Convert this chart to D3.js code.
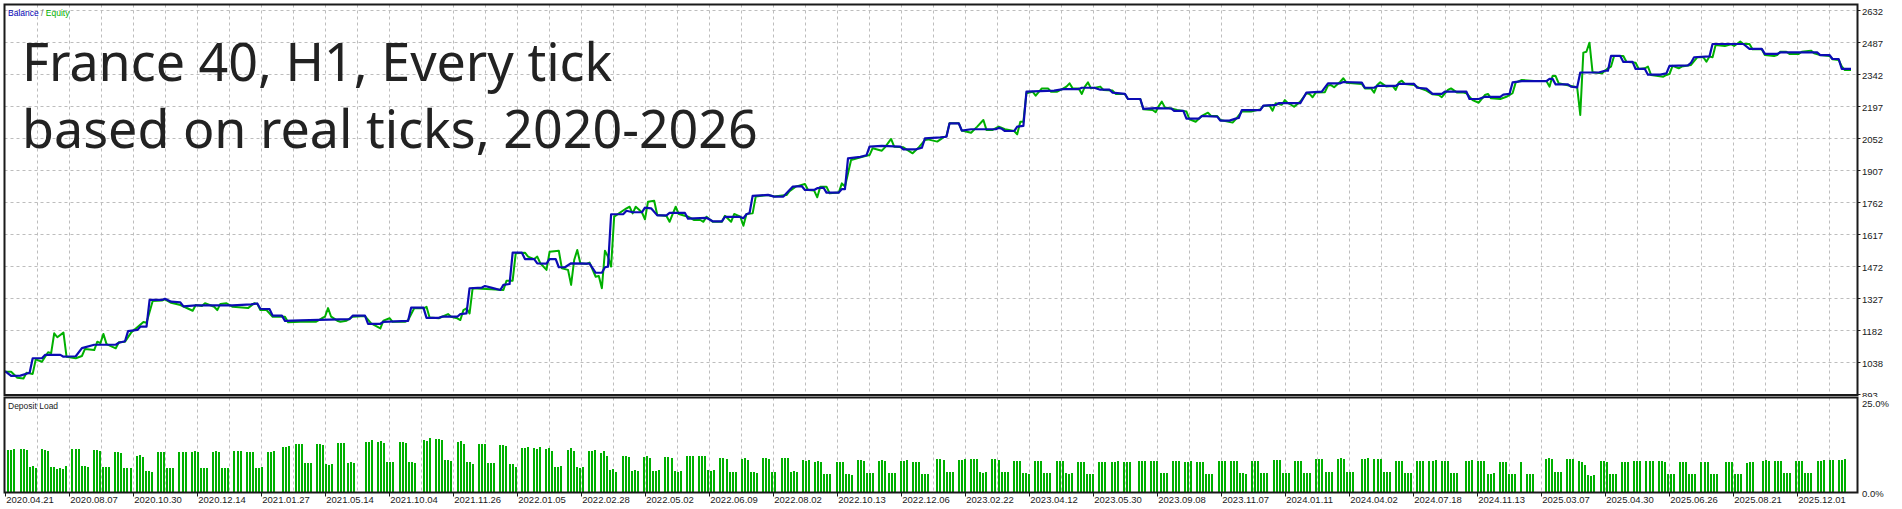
<!DOCTYPE html>
<html lang="en">
<head>
<meta charset="UTF-8">
<title>France 40 balance / equity</title>
<script src="https://d3js.org/d3.v7.min.js"></script>
<style>
  body { margin: 0; background: #fff; }
  svg text { font-family: "Liberation Sans", Arial, sans-serif; fill: #1a1a1a; }
  .grid line { stroke: #bdbdbd; stroke-width: 1; stroke-dasharray: 3,3; }
  .frame { fill: none; stroke: #1a1a1a; stroke-width: 2; }
  .tick { stroke: #1a1a1a; stroke-width: 1; }
</style>
</head>
<body>
<svg id="chart" width="1902" height="509"></svg>
<script>
// x axis labels (one every 64 px of the tester chart)
const dateLabels = ["2020.04.21", "2020.08.07", "2020.10.30", "2020.12.14", "2021.01.27", "2021.05.14",
  "2021.10.04", "2021.11.26", "2022.01.05", "2022.02.28", "2022.05.02", "2022.06.09", "2022.08.02",
  "2022.10.13", "2022.12.06", "2023.02.22", "2023.04.12", "2023.05.30", "2023.09.08", "2023.11.07",
  "2024.01.11", "2024.04.02", "2024.07.18", "2024.11.13", "2025.03.07", "2025.04.30", "2025.06.26",
  "2025.08.21", "2025.12.01"];

const priceTicks = [893, 1038, 1182, 1327, 1472, 1617, 1762, 1907, 2052, 2197, 2342, 2487, 2632];
const loadTicks = [0, 25];

const titleLines = ["France 40, H1, Every tick", "based on real ticks, 2020-2026"];

// [deal index, balance]
const balance = [[0,997],[2,975],[5,976],[8,989],[9,1055],[12,1055],[13,1070],[18,1070],[19,1062],[23,1064],
  [25,1101],[29,1116],[36,1116],[37,1125],[39,1132],[40,1178],[43,1183],[44,1198],[46,1198],[47,1319],
  [51,1319],[52,1324],[54,1311],[57,1308],[58,1290],[62,1294],[74,1294],[80,1299],[82,1303],[83,1279],
  [86,1277],[87,1248],[90,1248],[91,1224],[96,1226],[102,1229],[112,1232],[113,1248],[117,1248],[118,1211],
  [122,1211],[123,1220],[131,1224],[132,1284],[136,1284],[137,1238],[141,1238],[142,1243],[147,1243],[148,1255],
  [150,1258],[151,1372],[155,1375],[156,1382],[158,1375],[161,1364],[162,1387],[164,1391],[165,1533],[168,1533],
  [169,1504],[172,1504],[173,1485],[176,1483],[177,1504],[179,1504],[180,1467],[182,1467],[184,1485],[190,1483],
  [192,1442],[194,1442],[195,1467],[196,1470],[197,1707],[201,1708],[202,1723],[204,1716],[207,1716],[208,1737],
  [210,1734],[212,1702],[215,1702],[216,1713],[221,1713],[222,1687],[228,1691],[230,1675],[233,1675],[234,1695],
  [239,1695],[240,1689],[241,1707],[242,1713],[243,1790],[248,1795],[250,1787],[253,1787],[254,1802],[256,1832],
  [259,1834],[260,1817],[263,1817],[264,1825],[266,1828],[267,1805],[271,1805],[272,1821],[273,1821],[274,1960],
  [278,1967],[280,1974],[281,2013],[285,2017],[291,2013],[292,2001],[296,2001],[298,2008],[299,2051],[304,2055],
  [306,2058],[307,2119],[310,2119],[311,2086],[314,2092],[322,2092],[323,2098],[324,2094],[325,2084],[328,2084],
  [329,2104],[331,2107],[332,2262],[341,2267],[344,2274],[349,2274],[350,2280],[354,2280],[356,2271],[359,2271],
  [360,2258],[364,2252],[365,2229],[369,2229],[370,2184],[374,2188],[379,2186],[380,2175],[383,2175],[384,2140],
  [388,2140],[389,2152],[394,2149],[395,2131],[398,2131],[400,2140],[401,2143],[402,2179],[408,2179],[409,2199],
  [413,2202],[414,2210],[421,2210],[423,2258],[428,2262],[430,2300],[434,2300],[435,2306],[441,2303],[442,2280],
  [445,2280],[446,2288],[452,2288],[453,2297],[458,2297],[459,2280],[462,2276],[464,2252],[467,2252],[468,2262],
  [475,2262],[476,2229],[479,2229],[481,2239],[486,2239],[487,2249],[489,2252],[490,2304],[493,2310],[501,2310],
  [502,2320],[503,2320],[504,2295],[508,2295],[509,2285],[511,2282],[512,2349],[518,2349],[520,2357],[521,2357],
  [522,2424],[525,2424],[526,2397],[529,2397],[530,2365],[533,2365],[534,2339],[538,2339],[540,2345],[541,2379],
  [547,2381],[548,2393],[549,2418],[554,2422],[555,2478],[565,2478],[567,2456],[571,2456],[572,2433],[576,2433],
  [577,2440],[589,2440],[590,2428],[593,2428],[594,2410],[596,2410],[597,2365],[600,2365]];

// [deal index, equity]
const equity = [[0,994],[2,994],[4,967],[6,963],[7,989],[9,984],[10,1050],[12,1039],[14,1082],[15,1078],
  [16,1168],[17,1150],[19,1171],[20,1062],[23,1055],[25,1065],[26,1097],[29,1092],[30,1130],[31,1123],
  [32,1165],[33,1119],[36,1100],[37,1127],[39,1130],[41,1171],[43,1195],[45,1219],[46,1216],[48,1314],
  [51,1316],[52,1322],[54,1306],[57,1296],[61,1270],[62,1296],[64,1292],[65,1304],[68,1288],[69,1273],
  [70,1301],[72,1304],[74,1288],[79,1282],[81,1304],[82,1301],[83,1273],[85,1273],[87,1243],[91,1243],
  [92,1218],[96,1220],[101,1220],[103,1236],[104,1243],[105,1282],[106,1243],[108,1225],[109,1220],[111,1225],
  [113,1243],[117,1246],[119,1213],[122,1190],[123,1225],[125,1236],[126,1220],[130,1220],[131,1227],[133,1281],
  [136,1281],[137,1288],[138,1239],[141,1236],[144,1255],[145,1243],[147,1236],[148,1228],[149,1273],[150,1281],
  [151,1258],[152,1372],[158,1367],[162,1364],[163,1406],[165,1406],[166,1530],[169,1533],[170,1515],[172,1504],
  [173,1515],[174,1485],[176,1455],[177,1537],[180,1542],[181,1462],[183,1455],[184,1387],[185,1500],[186,1545],
  [187,1485],[189,1482],[190,1488],[192,1424],[193,1427],[194,1372],[195,1542],[196,1515],[197,1470],[198,1696],
  [202,1734],[203,1741],[204,1711],[205,1741],[207,1716],[208,1684],[209,1764],[211,1768],[212,1704],[215,1699],
  [216,1673],[217,1708],[218,1741],[219,1708],[222,1696],[224,1681],[226,1681],[227,1673],[228,1696],[230,1673],
  [233,1673],[234,1700],[236,1673],[237,1708],[239,1696],[240,1655],[241,1708],[243,1711],[244,1787],[248,1794],
  [250,1787],[254,1794],[255,1812],[257,1832],[260,1844],[261,1817],[263,1814],[264,1784],[265,1832],[267,1832],
  [268,1802],[271,1805],[272,1847],[273,1832],[275,1953],[279,1968],[281,1975],[282,2006],[285,1995],[286,2010],
  [288,2048],[289,2013],[292,2010],[293,2001],[295,1983],[297,2010],[299,2043],[300,2046],[303,2036],[305,2055],
  [306,2061],[307,2119],[310,2119],[311,2086],[314,2076],[316,2104],[318,2134],[319,2089],[321,2089],[323,2104],
  [325,2092],[328,2084],[329,2069],[330,2126],[331,2126],[332,2255],[334,2262],[335,2244],[337,2277],[339,2277],
  [340,2262],[342,2262],[344,2277],[345,2285],[346,2300],[347,2277],[349,2277],[350,2252],[351,2285],[352,2304],
  [353,2277],[356,2285],[357,2270],[360,2267],[361,2252],[364,2252],[365,2229],[369,2229],[370,2182],[373,2179],
  [374,2169],[375,2197],[376,2217],[377,2191],[379,2186],[381,2179],[384,2172],[385,2137],[387,2126],[389,2152],
  [391,2167],[392,2152],[394,2152],[395,2134],[399,2122],[400,2137],[402,2172],[405,2172],[408,2182],[409,2197],
  [411,2200],[412,2176],[413,2210],[415,2203],[416,2224],[417,2210],[418,2203],[419,2194],[421,2217],[423,2255],
  [424,2252],[425,2237],[426,2258],[429,2260],[430,2290],[431,2292],[432,2282],[434,2307],[435,2323],[436,2303],
  [441,2297],[442,2277],[444,2277],[445,2258],[446,2292],[447,2305],[449,2285],[451,2288],[452,2270],[453,2303],
  [454,2312],[455,2297],[458,2292],[460,2277],[462,2267],[464,2250],[466,2247],[467,2237],[469,2270],[470,2277],
  [472,2258],[474,2258],[475,2255],[477,2224],[479,2212],[481,2247],[482,2252],[483,2232],[486,2229],[488,2239],
  [490,2255],[491,2303],[493,2315],[497,2310],[501,2310],[502,2285],[503,2333],[504,2333],[505,2300],[509,2288],
  [511,2282],[512,2157],[513,2439],[514,2443],[515,2484],[516,2350],[519,2345],[521,2368],[522,2376],[523,2424],
  [526,2424],[527,2398],[530,2393],[531,2365],[533,2368],[534,2376],[535,2338],[539,2330],[540,2338],[541,2342],
  [542,2379],[544,2368],[545,2376],[548,2383],[550,2418],[552,2418],[553,2398],[554,2421],[555,2418],[556,2474],
  [559,2469],[561,2477],[562,2469],[564,2489],[565,2478],[567,2478],[568,2454],[571,2454],[572,2428],[575,2424],
  [576,2428],[577,2443],[579,2443],[580,2433],[583,2433],[584,2443],[587,2448],[588,2436],[590,2428],[593,2424],
  [594,2409],[596,2406],[597,2376],[598,2360],[600,2360]];

// deposit load, % : [first slot, load of each consecutive slot]
const loadGroups = [[0,11.1,11.1,11.3],[4,11.3,11.3,11.1],[7,6.5,6.8,6.2],[11,11.2,11.1,10.8],[14,6.6,6.6,6.1],
  [17,6.3,6.1,6.8],[21,11.3,11.3,11.3],[24,6.8,6.8,6.6],[28,11.1,11.1,10.8],[31,6.5,6.5,6.5],[35,10.6,10.6,10.2],
  [38,6.2,6.2,6.2],[42,9.5,9.7,9.2],[45,5.5,5.5,5.3],[49,10.5,10.5,10.4],[52,6.2,6.2,6.2],[56,10.5,10.5,10.5],
  [60,10.5,10.7,10.5],[63,6.2,6.2,6.2],[67,10.5,10.7,10.5],[70,6.2,6.2,6.2],[74,10.8,10.8,10.8],[78,10.5,10.5,10.4],
  [81,6.3,6.3,6.5],[85,10.5,10.5,10.8],[90,11.8,11.9,12.1],[94,12.6,12.6,12.6],[97,7.6,7.6,7.6],[101,12.6,12.6,12.3],
  [104,7.4,7.1,7.5],[108,12.9,12.9,12.9],[111,7.7,7.9,7.7],[117,13.2,13.2,13.6],[121,13.2,13.4,12.9],[124,7.9,7.9,7.9],
  [128,13.2,13.2,12.9],[131,7.9,7.9,7.6],[136,13.6,13.4,14.1],[140,13.9,13.9,13.6],[143,8.4,8.4,8.2],
  [147,13.2,13.3,12.6],[150,7.9,7.9,7.4],[154,12.6,12.6,12.6],[157,7.6,7.6,7.6],[161,12.4,12.4,12.1],
  [164,7.4,7.4,6.6],[168,11.6,11.6,11.8],[172,11.6,11.3,11.8],[176,11.3,11.6,10.8],[179,6.6,6.6,6.8],
  [183,11.1,11.6,10.8],[186,6.6,6.3,6.6],[190,10.8,10.8,11.1],[194,10.3,10.8,9.5],[197,5.8,6.1,5.3],
  [201,9.5,9.5,9.2],[204,5.5,5.8,5.5],[208,9.2,9.5,8.9],[211,5.5,5.5,5.8],[215,9.2,9.2,8.9],[218,5.5,5.3,5.5],
  [222,9.5,9.5,9.5],[226,9.5,9.5,9.5],[229,5.8,5.5,5.8],[233,8.9,8.9,8.7],[236,5.3,5.3,5.3],[240,8.7,8.9,8.4],
  [243,5.3,5.3,5.0],[247,8.9,8.9,8.7],[250,5.3,5.3],[253,8.9,8.9,8.9],[256,5.3,5.5,5.3],[260,8.4,8.2,8.4],
  [264,7.9,8.2,7.9],[267,4.7,4.7,4.7],[271,7.9,7.9,7.9],[274,4.7,4.7,4.5],[278,8.4,8.4,8.2],[281,5.0,5.0,5.0],
  [285,8.2,8.4,8.2],[288,5.0,5.0,5.0],[292,8.2,8.2,8.4],[296,7.9,7.9,7.9],[299,4.7,4.7,4.7],[304,8.7,8.7,8.4],
  [307,5.3,5.3,5.3],[311,8.4,8.4,8.7],[315,8.7,8.7,8.7],[318,5.3,5.0,5.3],[322,8.7,8.7,8.4],[325,5.3,5.3,5.3],
  [329,8.2,8.2,8.2],[332,5.0,5.0,4.7],[336,8.2,8.2,8.2],[339,5.0,5.0,5.0],[343,8.2,8.2,8.2],[346,5.0,4.7,5.0],
  [350,7.9,7.9,7.9],[353,4.7,4.7,4.7],[357,7.9,7.9,7.9],[361,7.9,7.9,8.2],[365,7.9,7.9,7.9],[370,8.2,8.2,8.2],
  [374,8.2,8.2,8.2],[377,5.0,5.0,5.0],[381,8.2,8.2,8.2],[385,7.9,7.9,8.2],[389,7.9,7.9,7.9],[392,4.7,4.7,4.7],
  [396,8.2,8.2,8.2],[400,8.2,8.2,8.2],[403,5.0,5.0,4.7],[407,8.2,8.2,8.2],[410,5.0,5.0,5.0],[414,8.4,8.4,8.4],
  [417,5.0,5.0,5.0],[421,8.2,8.2,8.2],[424,5.0,5.0,5.0],[428,8.7,8.7,8.7],[431,5.3,5.3,5.3],[435,8.7,8.9,8.7],
  [438,5.3,5.3,5.3],[443,8.7,8.7,8.9],[447,8.7,8.7,8.7],[450,5.3,5.3,5.3],[454,8.2,8.2,8.2],[457,5.0,5.0,5.0],
  [461,8.2,8.2,8.2],[465,8.2,8.2,8.4],[469,8.2,8.2,8.2],[472,5.0,5.0,5.0],[477,8.2,8.2,8.4],[481,8.2,8.2,8.2],
  [484,4.7,4.7,5.0],[488,7.9,7.9,7.9],[491,4.7,4.7,4.7],[495,7.9],[497,4.7,4.7,4.7],[503,8.7,8.9,8.7],
  [506,5.3,5.3,5.3],[510,8.7,8.7,8.7],[514,8.2,7.9,7.1],[517,4.5,4.2,4.5],[521,8.2,8.2,7.9],[524,4.7,4.7,4.7],
  [528,7.9,7.9,7.9],[532,8.2,8.2,8.2],[536,8.2,8.2,8.2],[540,8.2,8.2,7.9],[543,4.7,4.7,4.7],[547,7.9,7.9,7.9],
  [550,4.7,4.7,4.7],[554,7.9,7.9,7.9],[557,4.7,4.7,4.7],[562,7.9,7.9,7.9],[565,4.7,4.7,4.7],[569,7.6,7.9,7.9],
  [574,8.2,8.4,8.2],[578,8.2,8.2,8.2],[581,5.0,5.0,5.0],[585,8.2,8.2,8.2],[588,5.0,5.0,5.0],[592,8.2,8.2,8.4],
  [596,8.4,8.4],[599,8.4,8.4,8.7]];

const W = 1902, H = 509;
const left = 4.5, right = 1857.5;
const mainTop = 4.5, mainBottom = 395;
const loadTop = 397.5, loadBottom = 492.5;

const svg = d3.select("#chart");
svg.append("rect").attr("width", W).attr("height", H).attr("fill", "#fff");

const x = d3.scaleLinear().domain([0, 600]).range([5, 1851]);
const xLoad = d3.scaleLinear().domain([0, 599]).range([7.3, 1838]);
const y = d3.scaleLinear().domain([893, 2632]).range([394, 10]);
const yLoad = d3.scaleLinear().domain([0, 25]).range([492, 397]);
const labelX = d3.scaleLinear().domain([0, dateLabels.length - 1])
  .range([5.3, 5.3 + 64 * (dateLabels.length - 1)]);

// vertical grid every 32 px, in both panels
const vGrid = d3.range(37.3, right, 32);
const grid = svg.append("g").attr("class", "grid");
grid.selectAll("line.v").data(vGrid).enter().append("line")
  .attr("x1", d => Math.round(d) + 0.5).attr("x2", d => Math.round(d) + 0.5)
  .attr("y1", mainTop).attr("y2", mainBottom);
grid.selectAll("line.v2").data(vGrid).enter().append("line")
  .attr("x1", d => Math.round(d) + 0.5).attr("x2", d => Math.round(d) + 0.5)
  .attr("y1", loadTop).attr("y2", loadBottom);
grid.selectAll("line.h").data(priceTicks.slice(1)).enter().append("line")
  .attr("x1", left).attr("x2", right)
  .attr("y1", d => Math.round(y(d)) + 0.5).attr("y2", d => Math.round(y(d)) + 0.5);

// title
svg.append("g").selectAll("text").data(titleLines).enter().append("text")
  .attr("x", 22).attr("y", (d, i) => 81 + i * 67)
  .style("font-family", "'Noto Sans', 'Open Sans', sans-serif")
  .style("font-size", "52px").style("fill", "#222")
  .text(d => d);

// legend
const leg = svg.append("text").attr("x", 8).attr("y", 16).style("font-size", "8.5px");
leg.append("tspan").style("fill", "#0000b4").text("Balance");
leg.append("tspan").style("fill", "#707070").text(" / ");
leg.append("tspan").style("fill", "#00b000").text("Equity");

svg.append("text").attr("x", 8).attr("y", 409).style("font-size", "8.5px").text("Deposit Load");

// clip for the main panel lines
svg.append("clipPath").attr("id", "mainClip").append("rect")
  .attr("x", left).attr("y", mainTop).attr("width", right - left).attr("height", mainBottom - mainTop);

const line = d3.line().x(d => x(d[0])).y(d => y(d[1]));
const lines = svg.append("g").attr("clip-path", "url(#mainClip)");
lines.append("path").datum(equity).attr("d", line)
  .attr("fill", "none").attr("stroke", "#00b000").attr("stroke-width", 2).attr("stroke-linejoin", "round");
lines.append("path").datum(balance).attr("d", line)
  .attr("fill", "none").attr("stroke", "#0c0cb4").attr("stroke-width", 2.2).attr("stroke-linejoin", "round");

// deposit load bars
const bars = [];
loadGroups.forEach(g => g.slice(1).forEach((v, k) => bars.push({ slot: g[0] + k, v: v })));
svg.append("g").selectAll("rect").data(bars).enter().append("rect")
  .attr("x", d => Math.round(xLoad(d.slot)))
  .attr("width", 2)
  .attr("y", d => Math.round(yLoad(d.v)))
  .attr("height", d => yLoad(0) - Math.round(yLoad(d.v)))
  .attr("fill", "#00b000");

// frames
svg.append("rect").attr("class", "frame")
  .attr("x", left).attr("y", mainTop).attr("width", right - left).attr("height", mainBottom - mainTop);
svg.append("rect").attr("class", "frame")
  .attr("x", left).attr("y", loadTop).attr("width", right - left).attr("height", loadBottom - loadTop);

// right price axis
svg.append("clipPath").attr("id", "axisClip").append("rect")
  .attr("x", right).attr("y", 0).attr("width", W - right).attr("height", 397);
const yAxis = svg.append("g").attr("clip-path", "url(#axisClip)");
yAxis.selectAll("line").data(priceTicks).enter().append("line").attr("class", "tick")
  .attr("x1", right).attr("x2", right + 3)
  .attr("y1", d => Math.round(y(d)) + 0.5).attr("y2", d => Math.round(y(d)) + 0.5);
yAxis.selectAll("text").data(priceTicks).enter().append("text")
  .attr("x", 1862).attr("y", d => y(d) + 5.3)
  .style("font-size", "9.5px").text(d => d);

// right load axis
svg.selectAll("text.load").data(loadTicks).enter().append("text").attr("class", "load")
  .attr("x", 1862).attr("y", d => d === 0 ? yLoad(d) + 4.5 : yLoad(d) + 9.5)
  .style("font-size", "9.5px").text(d => d.toFixed(1) + "%");

// bottom date axis
svg.selectAll("line.xt").data(dateLabels).enter().append("line").attr("class", "tick")
  .attr("x1", (d, i) => Math.round(labelX(i)) + 0.5).attr("x2", (d, i) => Math.round(labelX(i)) + 0.5)
  .attr("y1", loadBottom).attr("y2", loadBottom + 4);
svg.selectAll("text.xl").data(dateLabels).enter().append("text").attr("class", "xl")
  .attr("x", (d, i) => labelX(i) + 1).attr("y", 502.5)
  .style("font-size", "9.5px").text(d => d);
</script>
</body>
</html>
